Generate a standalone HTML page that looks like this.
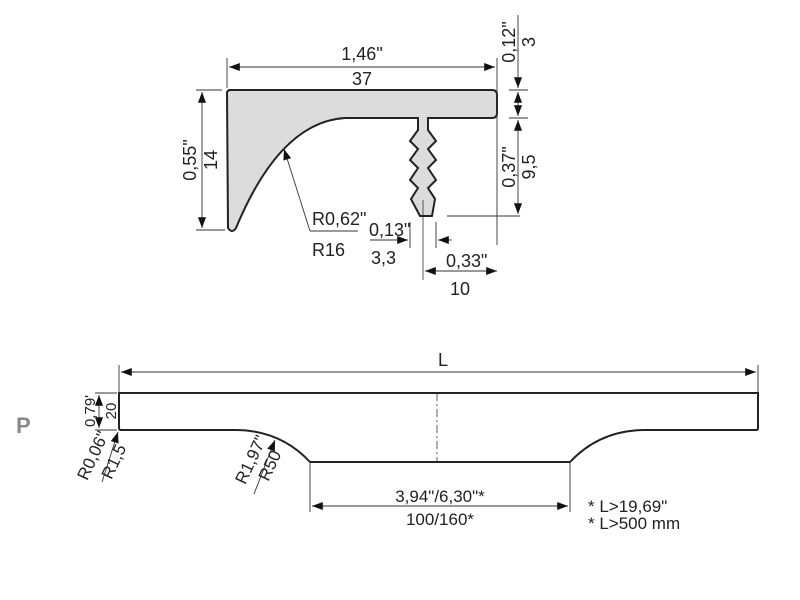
<!DOCTYPE html>
<html><head><style>
html,body{margin:0;padding:0;background:#fff;width:800px;height:600px;overflow:hidden}
svg{display:block}
text{font-family:"Liberation Sans",sans-serif;fill:#222}
</style></head><body>
<svg width="800" height="600" viewBox="0 0 800 600" xmlns="http://www.w3.org/2000/svg">
<defs>
<marker id="a" viewBox="0 0 12 10" refX="12" refY="5" markerWidth="13" markerHeight="9" orient="auto-start-reverse" markerUnits="userSpaceOnUse"><path d="M0,0.5 L12,5 L0,9.5z" fill="#111"/></marker>
</defs>
<path d="M229,90 L492,90 Q497,90 497,95 L497,113 Q497,118 492,118 L428,118 L428,130 L436,141 L428,149 L436,160 L428,168 L436,180 L428,188 L435,199 L432,216 L420,216 L411,199 L418,188 L410,180 L418,168 L410,160 L418,149 L410,141 L418,130 L418,118 L345,118 Q280,122 236,228 Q232,234 228,228 L227,92 Z" fill="#dcdcdc" stroke="#222" stroke-width="2"/>
<line x1="423" y1="200" x2="423" y2="280" stroke="#333" stroke-width="0.8"/>
<g stroke="#333" stroke-width="0.9" fill="none">
<line x1="227" y1="58" x2="227" y2="88"/>
<line x1="497" y1="58" x2="497" y2="245"/>
<line x1="229" y1="67" x2="495" y2="67" marker-start="url(#a)" marker-end="url(#a)"/>
<line x1="196" y1="90" x2="222" y2="90"/>
<line x1="196" y1="230" x2="225" y2="230"/>
<line x1="202" y1="92" x2="202" y2="228" marker-start="url(#a)" marker-end="url(#a)"/>
<line x1="518" y1="15" x2="518" y2="88" marker-end="url(#a)"/>
<line x1="518" y1="120" x2="518" y2="214" marker-start="url(#a)" marker-end="url(#a)"/>
<line x1="518" y1="92" x2="518" y2="116" marker-start="url(#a)" marker-end="url(#a)"/>
<line x1="509" y1="90" x2="528" y2="90"/>
<line x1="509" y1="118" x2="528" y2="118"/>
<line x1="447" y1="216" x2="520" y2="216"/>
<line x1="410" y1="222" x2="410" y2="248"/>
<line x1="436" y1="222" x2="436" y2="248"/>
<line x1="370" y1="240" x2="408" y2="240" marker-end="url(#a)"/>
<line x1="452" y1="240" x2="438" y2="240" marker-end="url(#a)"/>
<line x1="425" y1="271" x2="497" y2="271" marker-start="url(#a)" marker-end="url(#a)"/>
<line x1="310" y1="231" x2="284" y2="149" marker-end="url(#a)"/>
<line x1="310" y1="231" x2="358" y2="231"/>
</g>
<text x="362" y="60" font-size="18" text-anchor="middle">1,46"</text>
<text x="362" y="85" font-size="18" text-anchor="middle">37</text>
<text transform="translate(196,160) rotate(-90)" font-size="18" text-anchor="middle">0,55"</text>
<text transform="translate(217,160) rotate(-90)" font-size="18" text-anchor="middle">14</text>
<text transform="translate(515,42) rotate(-90)" font-size="18" text-anchor="middle">0,12"</text>
<text transform="translate(535,42) rotate(-90)" font-size="18" text-anchor="middle">3</text>
<text transform="translate(515,167) rotate(-90)" font-size="18" text-anchor="middle">0,37"</text>
<text transform="translate(535,167) rotate(-90)" font-size="18" text-anchor="middle">9,5</text>
<text x="312" y="225" font-size="18">R0,62"</text>
<text x="312" y="256" font-size="18">R16</text>
<text x="369" y="236" font-size="18">0,13"</text>
<text x="371" y="264" font-size="18">3,3</text>
<text x="446" y="267" font-size="18">0,33"</text>
<text x="450" y="295" font-size="18">10</text>
<path d="M119,393 L758,393 L758,428 Q758,430 756,430 L645,430 Q600,430 570,462 L310,462 Q280,430 235,430 L121,430 Q119,430 119,428 Z" fill="none" stroke="#222" stroke-width="2"/>
<line x1="437" y1="393" x2="437" y2="462" stroke="#333" stroke-width="0.8" stroke-dasharray="8,3,2,3"/>
<g stroke="#333" stroke-width="0.9" fill="none">
<line x1="119" y1="365" x2="119" y2="393"/>
<line x1="758" y1="365" x2="758" y2="393"/>
<line x1="121" y1="372" x2="756" y2="372" marker-start="url(#a)" marker-end="url(#a)"/>
<line x1="310" y1="462" x2="310" y2="512"/>
<line x1="570" y1="462" x2="570" y2="512"/>
<line x1="312" y1="506" x2="568" y2="506" marker-start="url(#a)" marker-end="url(#a)"/>
<line x1="95" y1="393" x2="117" y2="393"/>
<line x1="95" y1="430" x2="117" y2="430"/>
<line x1="99" y1="395" x2="99" y2="428" marker-start="url(#a)" marker-end="url(#a)"/>
<line x1="102" y1="482" x2="118" y2="432" marker-end="url(#a)"/>
<line x1="254" y1="494" x2="275" y2="440" marker-end="url(#a)"/>
</g>
<text x="443" y="366" font-size="18" text-anchor="middle">L</text>
<text x="440" y="502" font-size="17" text-anchor="middle">3,94"/6,30"*</text>
<text x="440" y="525" font-size="17" text-anchor="middle">100/160*</text>
<text x="588" y="512" font-size="17">* L&gt;19,69"</text>
<text x="588" y="529" font-size="17">* L&gt;500 mm</text>
<text x="16" y="433" font-size="22" font-weight="bold" style="fill:#888">P</text>
<text transform="translate(95,411) rotate(-90)" font-size="15" text-anchor="middle">0,79'</text>
<text transform="translate(116,411) rotate(-90)" font-size="15" text-anchor="middle">20</text>
<text transform="translate(98,458) rotate(-65)" font-size="17" text-anchor="middle">R0,06"</text>
<text transform="translate(119,464) rotate(-65)" font-size="17" text-anchor="middle">R1,5</text>
<text transform="translate(256,462) rotate(-65)" font-size="17" text-anchor="middle">R1,97"</text>
<text transform="translate(275,468) rotate(-65)" font-size="17" text-anchor="middle">R50</text>
</svg>
</body></html>
